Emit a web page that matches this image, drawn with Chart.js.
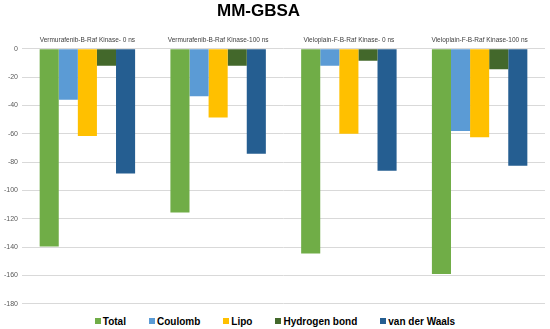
<!DOCTYPE html>
<html>
<head>
<meta charset="utf-8">
<script src="https://cdn.jsdelivr.net/npm/chart.js@4"></script>
<style>
  html, body { margin: 0; padding: 0; background: #fff; }
  #wrap { width: 550px; height: 329px; position: relative; }
  #plot { position: absolute; left: 0; top: 0; width: 550px; height: 312px; }
  #title {
    position: absolute; left: 217px; top: 1px;
    font: bold 17px "Liberation Sans", Arial, sans-serif; line-height: 20px; color: #000;
  }
  #legend {
    position: absolute; left: 0; top: 315px; width: 550px;
    display: flex; justify-content: center; gap: 23px;
    font: bold 10px "Liberation Sans", Arial, sans-serif; color: #000;
    line-height: 13px;
  }
  #legend span.sw { display: inline-block; width: 6px; height: 6px; margin-right: 2px; vertical-align: 1px; }
</style>
</head>
<body>
<div id="wrap">
  <div id="plot"><canvas id="mmgbsa"></canvas></div>
  <div id="title">MM-GBSA</div>
  <div id="legend"></div>
</div>
<script>
const categories = [
  'Vermurafenib-B-Raf Kinase- 0 ns',
  'Vermurafenib-B-Raf Kinase-100 ns',
  'Vieloplain-F-B-Raf Kinase- 0 ns',
  'Vieloplain-F-B-Raf Kinase-100 ns'
];
const seriesNames = ['Total', 'Coulomb', 'Lipo', 'Hydrogen bond', 'van der Waals'];
const total = [-139.5, -115.5, -144.5, -159];
const coulomb = [-36, -33.5, -12, -58];
const lipo = [-61.5, -48.5, -60, -62.5];
const hbond = [-12, -12, -8.5, -14.5];
const vdw = [-88, -74, -86, -82.5];
const yTicks = [0, -20, -40, -60, -80, -100, -120, -140, -160, -180];
const colors = ['#70ad47', '#5b9bd5', '#ffc000', '#43682b', '#255e91'];

const values = [total, coulomb, lipo, hbond, vdw];

const ctx = document.getElementById('mmgbsa').getContext('2d');
const chart = new Chart(ctx, {
  type: 'bar',
  data: {
    labels: categories,
    datasets: values.map((v, i) => ({
      label: seriesNames[i],
      data: v,
      backgroundColor: colors[i],
      borderWidth: 0,
      categoryPercentage: 0.73,
      barPercentage: 1.0
    }))
  },
  options: {
    responsive: true,
    maintainAspectRatio: false,
    animation: false,
    // top padding leaves room for the HTML title
    layout: { padding: { left: 0, right: 5, top: 31, bottom: 0 } },
    scales: {
      x: {
        position: 'top',
        grid: { display: false, drawTicks: false },
        border: { display: false },
        ticks: {
          color: '#404040',
          font: { family: 'Liberation Sans', size: 6.5 },
          padding: 5,
          maxRotation: 0
        }
      },
      y: {
        min: -180,
        max: 0,
        afterBuildTicks: axis => { axis.ticks = yTicks.map(v => ({ value: v })); },
        grid: { color: '#d9d9d9', drawTicks: false },
        border: { display: false },
        ticks: {
          color: '#595959',
          font: { family: 'Liberation Sans', size: 7 },
          padding: 4
        }
      }
    },
    plugins: {
      title: { display: false }, // HTML title above
      legend: { display: false }, // custom HTML legend below
      tooltip: { enabled: false }
    }
  }
});

// custom HTML legend
const legendEl = document.getElementById('legend');
seriesNames.forEach((name, i) => {
  const item = document.createElement('div');
  item.innerHTML = `<span class="sw" style="background:${colors[i]}"></span>${name}`;
  legendEl.appendChild(item);
});
</script>
</body>
</html>
